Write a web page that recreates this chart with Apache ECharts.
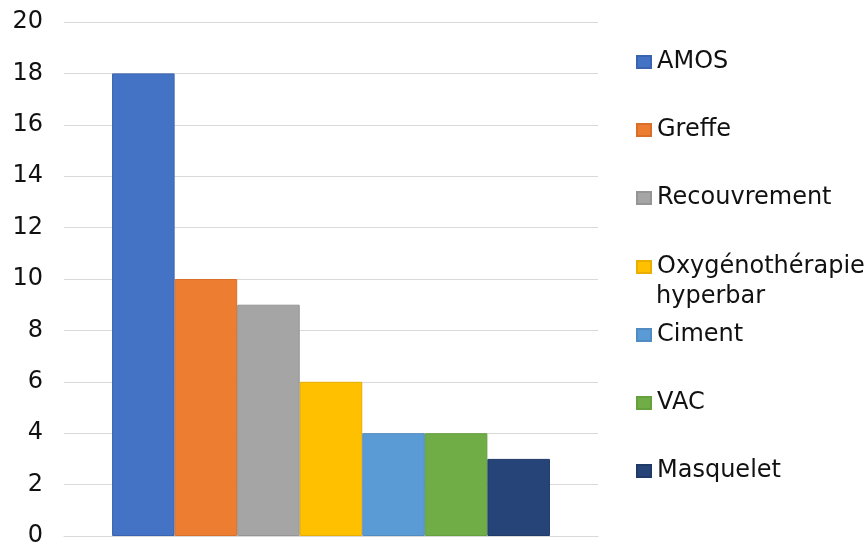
<!DOCTYPE html>
<html><head><meta charset="utf-8">
<script src="https://cdn.jsdelivr.net/npm/echarts@6/dist/echarts.min.js"></script>
<style>html,body{margin:0;padding:0;background:#fff;overflow:hidden}#c{width:866px;height:544px}</style>
</head><body><div id="c"></div>
<script>
const categories = [''];
const seriesNames = ['AMOS','Greffe','Recouvrement','Oxygénothérapie hyperbar','Ciment','VAC','Masquelet'];
const seriesValues = [18, 10, 9, 6, 4, 4, 3];
const seriesColors = ['#4472C4','#ED7D31','#A5A5A5','#FFC000','#5B9BD5','#70AD47','#264478'];
const borderColors = ['#3B64B0','#D8702A','#959595','#E8AE00','#508CC2','#64A03E','#1F3A66'];
const legendCenters = [62,130,198,267,335,403,471];
const font = 'DejaVu Sans, Arial, sans-serif';

const chart = echarts.init(document.getElementById('c'));
const legends = seriesNames.map((n,i)=>({
  data:[n], orient:'vertical', left:636, top:legendCenters[i]-12, padding:0,
  icon:'rect', itemWidth:14, itemHeight:12, itemGap:7, selectedMode:false,
  formatter: (name)=> name==='Oxygénothérapie hyperbar' ? 'Oxygénothérapie' : name,
  textStyle:{fontFamily:font, fontSize:24, color:'#111', lineHeight:24, padding:[0,0,0,1]}
}));
chart.setOption({
  animation:false,
  grid:{left:64, right:268, top:22, bottom:8, containLabel:false, outerBoundsMode:'none'},
  legend: legends,
  graphic:[{type:'text', x:656, y:legendCenters[3]+30, style:{text:'hyperbar', fontFamily:font, fontSize:24, fill:'#111', verticalAlign:'middle'}}],
  xAxis:{type:'category', data:categories, axisLine:{lineStyle:{color:'#d9d9d9'}}, axisTick:{show:false}, axisLabel:{show:false}},
  yAxis:{type:'value', min:0, max:20, interval:2,
    axisLine:{show:false}, axisTick:{show:false},
    splitLine:{lineStyle:{color:'#d9d9d9', width:1}},
    axisLabel:{fontFamily:font, fontSize:24, color:'#111', margin:21}},
  series: seriesNames.map((n,i)=>({
    name:n, type:'bar', data:[seriesValues[i]], barGap:'0%', barCategoryGap:'18%',
    itemStyle:{color:seriesColors[i], borderColor:borderColors[i], borderWidth:1}
  }))
});
</script></body></html>
